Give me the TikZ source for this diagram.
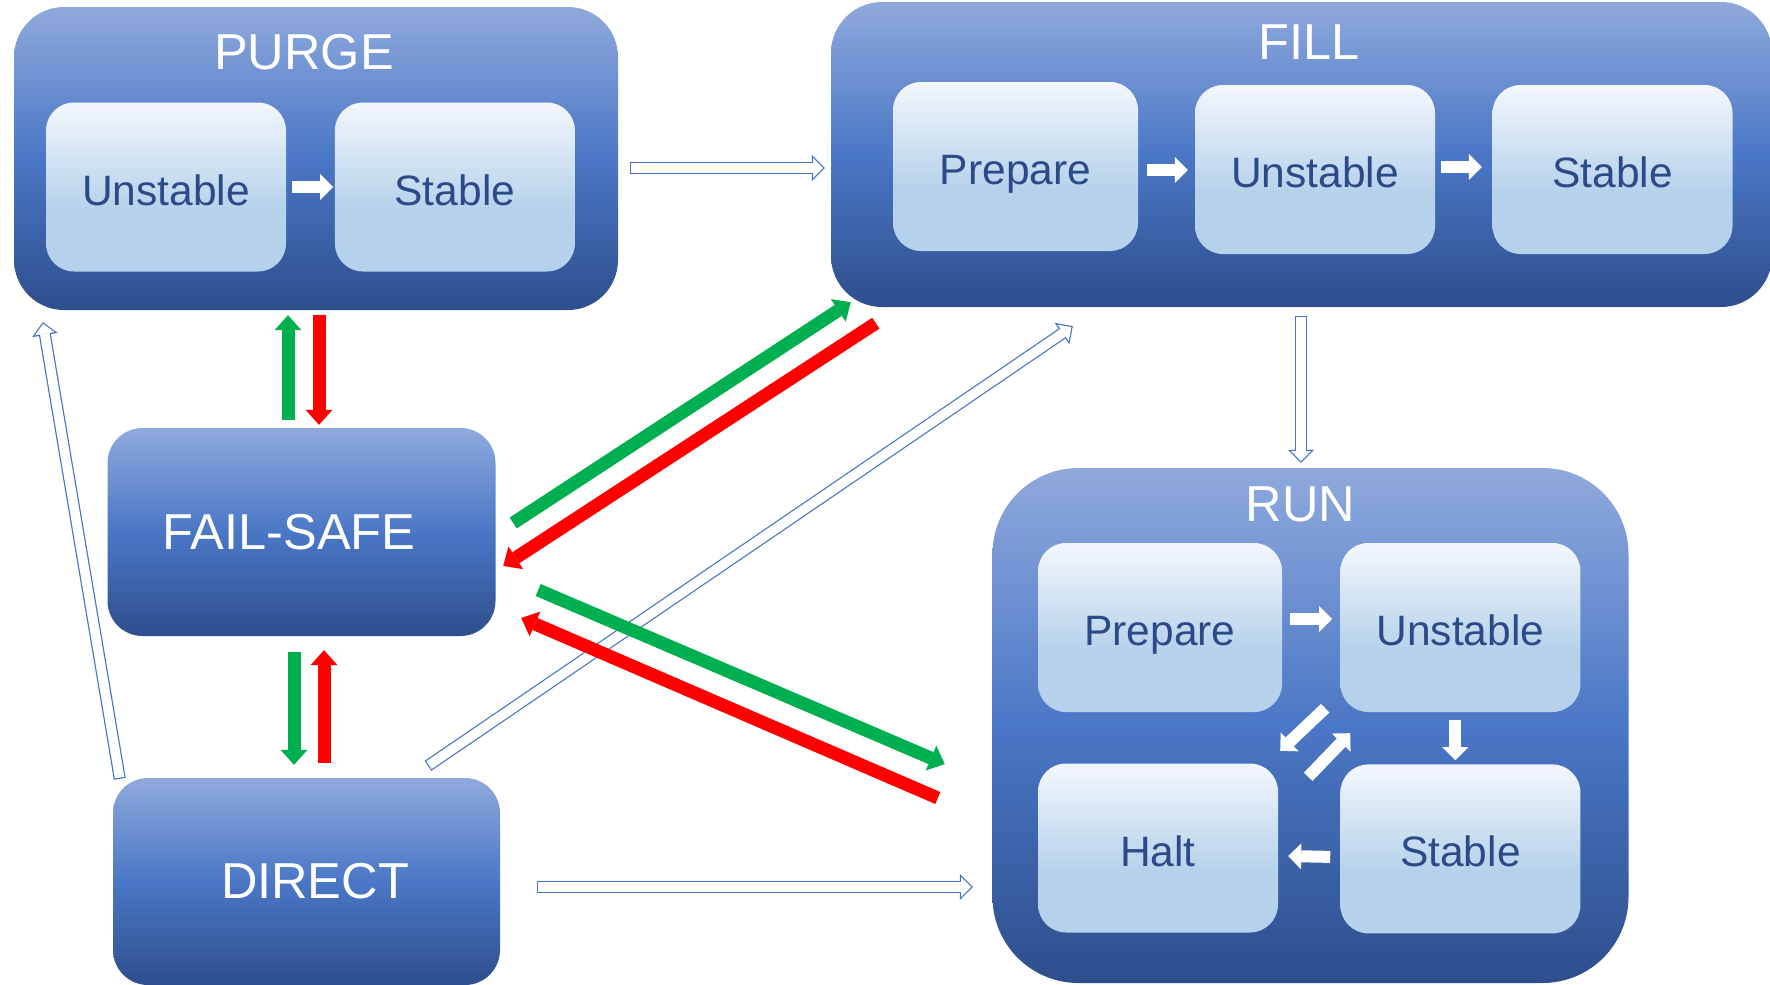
\documentclass[tikz,border=0pt]{standalone}
\usepackage{fontspec}
\setmainfont{Liberation Sans}
\usetikzlibrary{arrows.meta,calc,positioning}

\definecolor{outertop}{HTML}{8FA9DC}
\definecolor{outermid}{HTML}{4A77C6}
\definecolor{outerbot}{HTML}{2E4E8C}
\definecolor{innertop}{HTML}{F3F7FC}
\definecolor{innerbot}{HTML}{B5D1EB}
\definecolor{statetext}{HTML}{2C4A88}
\definecolor{hollowblue}{HTML}{4472C4}
\definecolor{okgreen}{HTML}{00B050}
\definecolor{failred}{HTML}{FF0000}

\pgfdeclareverticalshading{statefill}{100bp}{color(0bp)=(innerbot); color(25bp)=(innerbot);
  color(43bp)=(innerbot); color(75bp)=(innertop); color(100bp)=(innertop)}

\begin{document}
\begin{tikzpicture}[x=1pt, y=-1pt]
\tikzstyle{stage}=[inner sep=0pt, top color=outertop, bottom color=outerbot,
  middle color=outermid, text=white, font=\fontsize{50.5}{60}\selectfont]
\tikzstyle{stagename}=[text=white, font=\fontsize{50.5}{60}\selectfont]
\tikzstyle{state}=[rounded corners=28pt, shading=statefill, minimum width=240pt,
  minimum height=169pt, inner sep=0pt, text height=36pt, text depth=0pt,
  text=statetext, font=\fontsize{42.5}{50}\selectfont]
\tikzstyle{flow}=[white, line width=12pt, -{Triangle[width=26pt,length=13pt,line width'=0pt]}]
\tikzstyle{gogreen}=[okgreen, line width=13pt, -{Triangle[width=27pt,length=15pt,line width'=0pt]}]
\tikzstyle{backred}=[failred, line width=13pt, -{Triangle[width=27pt,length=15pt,line width'=0pt]}]
\tikzstyle{jumpout}=[hollowblue, line width=12pt, -{Triangle[width=26pt,length=13pt,line width'=0pt]}]
\tikzstyle{jumpin}=[white, line width=9.6pt, shorten <=1.2pt, shorten >=1.7pt,
  -{Triangle[width=20pt,length=10pt,line width'=0pt]}]

\useasboundingbox (0,0) rectangle (1770,985);

% the five stages
\node[stage, rounded corners=50pt, minimum width=604pt, minimum height=303pt] (purge) at (316,158.5) {};
\node[stage, rounded corners=51pt, minimum width=941pt, minimum height=305pt] (fill) at (1301.5,154.5) {};
\node[stage, rounded corners=86pt, minimum width=636pt, minimum height=515pt] (run) at (1310.5,725.5) {};
\node[stage, rounded corners=35pt, minimum width=388pt, minimum height=208pt] (failsafe) at (301.5,532) {\hspace{-25pt}FAIL-SAFE};
\node[stage, rounded corners=35pt, minimum width=387pt, minimum height=207pt] (direct) at (306.5,881.5) {\hspace{17pt}DIRECT};

\node[stagename] (purgename) at ($(purge.north)+(-12,45)$) {PURGE};
\node[stagename] (fillname) at ($(fill.north)+(8,40)$) {FILL};
\node[stagename] (runname) at ($(run.north)+(-10,37)$) {RUN};

% purge states
\node[state] (purgeun) at (166,187) {Unstable};
\node[state, right=48.5pt of purgeun] (purgest) {Stable};
\draw[flow, shorten <=6pt, shorten >=1.5pt] (purgeun) -- (purgest);

% fill states
\node[state, minimum width=245pt] (fillprep) at (1015.5,166.5) {Prepare};
\node[state] (fillun) at (1315,169.5) {Unstable};
\node[state] (fillst) at (1612.5,169.5) {Stable};
\draw[flow] ($(fillprep.east)+(9,3.5)$) -- ($(fillun.west)+(-7,0.5)$);
\draw[flow] ($(fillun.east)+(6,-2.5)$) -- ($(fillst.west)+(-10.5,-2.5)$);

% run states
\node[state, minimum width=244pt] (runprep) at (1160,627.5) {Prepare};
\node[state, right=58pt of runprep] (runun) {Unstable};
\node[state] (runhalt) at (1158,848) {Halt};
\node[state, below=52pt of runun] (runst) {Stable};
\draw[flow] ($(runprep.east)+(8,-8.5)$) -- ($(runun.west)+(-8,-8.5)$);
\draw[flow] ($(runun.south)+(-5,8)$) -- ($(runst.north)+(-5,-4)$);
\draw[flow] ($(runst.west)+(-10,8)$) -- ($(runhalt.east)+(10,8)$);
\draw[flow] ($(runun.south west)+(-15,-4)$) -- ($(runhalt.north east)+(2,-12.5)$);
\draw[flow] ($(runhalt.north east)+(30,13.5)$) -- ($(runun.south west)+(10,21)$);

% normal sequence
\draw[jumpout] ($(purge.east)+(12,9.5)$) -- ($(fill.west)+(-6,13.5)$);
\draw[jumpin] ($(purge.east)+(12,9.5)$) -- ($(fill.west)+(-6,13.5)$);
\draw[jumpout] ($(fill.south)+(-0.5,9)$) -- ($(run.north)+(-9.5,-5)$);
\draw[jumpin] ($(fill.south)+(-0.5,9)$) -- ($(run.north)+(-9.5,-5)$);

% direct jumps
\draw[jumpout] ($(direct.north)+(121.5,-12)$) -- ($(fill.south west)+(242,19)$);
\draw[jumpin] ($(direct.north)+(121.5,-12)$) -- ($(fill.south west)+(242,19)$);
\draw[jumpout] ($(direct.north west)+(7,1)$) -- ($(purge.south west)+(29,12)$);
\draw[jumpin] ($(direct.north west)+(7,1)$) -- ($(purge.south west)+(29,12)$);
\draw[jumpout] ($(direct.east)+(37,5.5)$) -- ($(run.west)+(-19.5,161.5)$);
\draw[jumpin] ($(direct.east)+(37,5.5)$) -- ($(run.west)+(-19.5,161.5)$);

% in and out of fail-safe
\draw[gogreen] ($(failsafe.north)+(-13.5,-8)$) -- ($(purge.south)+(-28,5)$);
\draw[backred] ($(purge.south)+(3,5)$) -- ($(failsafe.north)+(17.5,-3)$);
\draw[gogreen] ($(failsafe.south)+(-7.5,16)$) -- ($(direct.north)+(-12.5,-13)$);
\draw[backred] ($(direct.north)+(17.5,-15)$) -- ($(failsafe.south)+(22.5,14)$);
\draw[gogreen] ($(failsafe.east)+(17.5,-9)$) -- ($(fill.south west)+(20,-5)$);
\draw[backred] ($(fill.south west)+(45,16)$) -- ($(failsafe.east)+(7.5,34)$);
\draw[gogreen] ($(failsafe.east)+(42.5,58)$) -- ($(run.west)+(-47.5,38.5)$);
\draw[backred] ($(run.west)+(-54.5,72.5)$) -- ($(failsafe.east)+(25.5,86)$);
\end{tikzpicture}
\end{document}
